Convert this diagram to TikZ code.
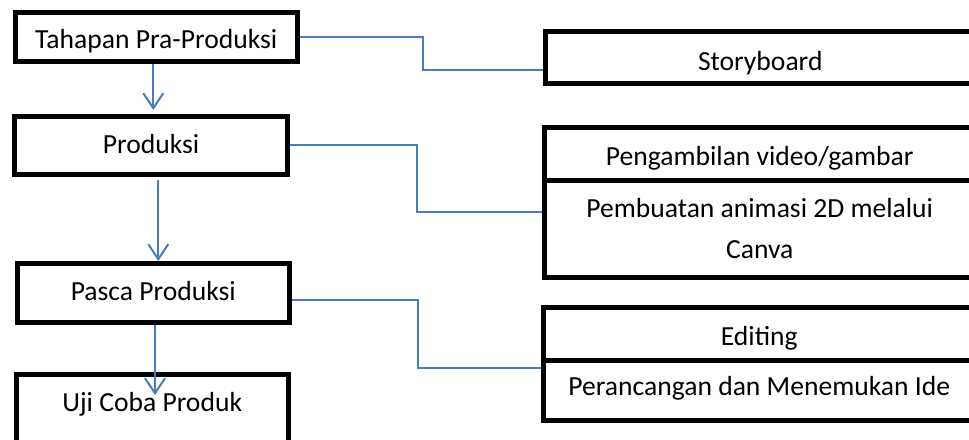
\documentclass[tikz,border=0pt]{standalone}
\usepackage{fontspec}
\setmainfont{Carlito}
\usetikzlibrary{arrows.meta}
\definecolor{lnblue}{HTML}{4A7EBB}
\begin{document}
\begin{tikzpicture}[x=1pt,y=-1pt,
  boxbase/.style={draw=black, line width=5pt, inner sep=0pt, font=\fontsize{27.6}{41}\selectfont},
  bx/.style={boxbase, text depth=0pt, text height=#1},
  cn/.style={draw=lnblue, line width=2pt},
  ar/.style={cn, -{Straight Barb[length=15pt,width=20pt]}}]
\useasboundingbox (0,0) rectangle (969,439);
\clip (0,0) rectangle (969,439);
% left column
\node[bx=23.1pt, minimum width=282.5pt, minimum height=48.5pt] (b1) at (156.25,36.75) {Tahapan Pra-Produksi};
\node[bx=16.1pt, minimum width=273pt, minimum height=58.5pt] (b2) at (151,145.25) {Produksi};
\node[bx=14pt, minimum width=272.5pt, minimum height=59pt] (b3) at (153.25,293) {Pasca Produksi};
\node[boxbase, text height=0pt, text depth=10.6pt, minimum width=271.5pt, minimum height=85pt] (b4) at (152.25,417) {Uji Coba Produk};
% right column
\node[bx=25.5pt, minimum width=429.5pt, minimum height=51.5pt] (s1) at (760.25,57.25) {Storyboard};
\node[bx=22.5pt, minimum width=430.5pt, minimum height=52.5pt] (p1) at (759.75,153.75) {Pengambilan video/gambar};
\node[boxbase, align=center, minimum width=430.5pt, minimum height=97.5pt] (p2) at (759.75,228.75) {Pembuatan animasi 2D melalui\\Canva};
\node[bx=22pt, minimum width=431.5pt, minimum height=53pt] (e1) at (759.25,334) {Editing};
\node[bx=9pt, minimum width=431.5pt, minimum height=60pt] (e2) at (759.25,390.5) {Perancangan dan Menemukan Ide};
% connectors
\draw[cn] (b1.east) -| (423,70) -- (s1.west |- 0,70);
\draw[cn] (b2.east) -| (416.7,211.7) -- (p2.west |- 0,211.7);
\draw[cn] (b3.east |- 0,300) -| (418.3,367.7) -- (e2.west |- 0,367.7);
% arrows
\draw[ar, shorten >=3.5pt] (b1.south -| 153.3,0) -- (b2.north -| 153.3,0);
\draw[ar, shorten <=3pt] (b2.south -| 158.3,0) -- (b3.north -| 158.3,0);
\coordinate (a3e) at (155,395);
\draw[ar] (b3.south -| 155,0) -- (a3e);
\end{tikzpicture}
\end{document}
